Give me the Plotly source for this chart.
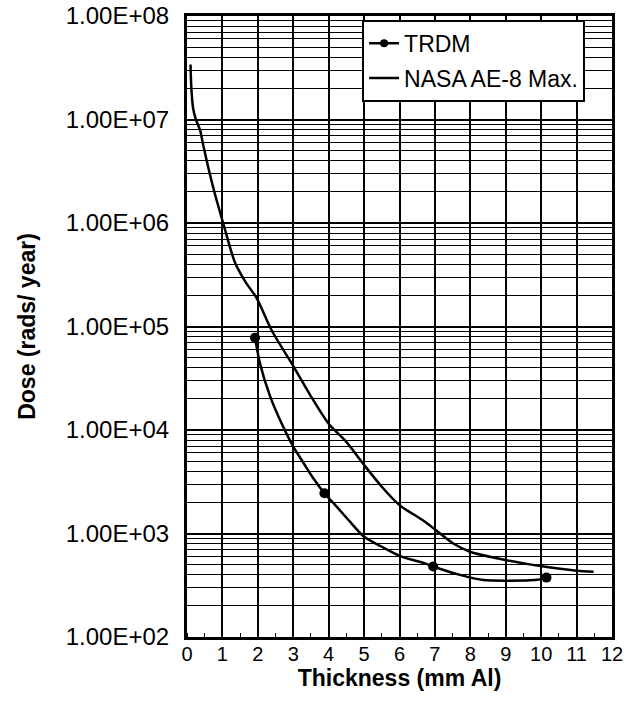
import plotly.graph_objects as go

# ---- data ----
trdm_x = [1.92, 3.88, 6.95, 10.15]
trdm_y = [7.8e4, 2.45e3, 480, 375]

trdm_curve_x = [1.92, 2.06, 2.35, 2.67, 3.0, 3.29, 3.57, 3.88, 4.25, 4.56, 5.0,
                5.5, 6.06, 6.72, 6.95, 7.71, 8.37, 9.03, 9.88, 10.15]
trdm_curve_y = [7.8e4, 4.4e4, 2.1e4, 1.16e4, 6.9e3, 4.8e3, 3.4e3, 2.45e3, 1.78e3,
                1.35e3, 930, 745, 597, 515, 480, 398, 355, 350, 357, 375]

nasa_x = [0.10, 0.12, 0.17, 0.25, 0.37, 0.46, 0.74, 1.05, 1.36, 1.65, 1.97, 2.39,
          3.01, 3.47, 4.0, 4.51, 5.0, 5.5, 6.0, 6.72, 7.52, 7.99, 8.98, 9.97,
          11.0, 11.48]
nasa_y = [3.4e7, 2.1e7, 1.3e7, 1.0e7, 7.9e6, 5.6e6, 2.2e6, 9.2e5, 4.1e5, 2.7e5,
          1.87e5, 9.2e4, 4.1e4, 2.2e4, 1.15e4, 7.6e3, 4.6e3, 2.83e3, 1.88e3, 1.3e3,
          800, 667, 555, 485, 437, 427]

y_tickvals = [1e2, 1e3, 1e4, 1e5, 1e6, 1e7, 1e8]
y_ticktext = ["1.00E+02", "1.00E+03", "1.00E+04", "1.00E+05",
              "1.00E+06", "1.00E+07", "1.00E+08"]
x_tickvals = list(range(0, 13))

FONT = "Liberation Sans, Arial, Helvetica, sans-serif"
minor_y = [m * 10 ** e for e in range(2, 8) for m in range(2, 10)]

fig = go.Figure()
fig.add_trace(go.Scatter(x=nasa_x, y=nasa_y, mode="lines", name="NASA AE-8 Max.",
                         line=dict(color="black", width=2.5, shape="spline", smoothing=0.8),
                         legendrank=2))
fig.add_trace(go.Scatter(x=trdm_curve_x, y=trdm_curve_y, mode="lines", showlegend=False,
                         line=dict(color="black", width=2.5, shape="spline", smoothing=0.7),
                         legendgroup="trdm"))
fig.add_trace(go.Scatter(x=trdm_x, y=trdm_y, mode="markers", showlegend=False,
                         marker=dict(color="black", size=10), legendgroup="trdm"))
fig.add_trace(go.Scatter(x=[None], y=[None], mode="lines+markers", name="TRDM",
                         line=dict(color="black", width=2.5),
                         marker=dict(color="black", size=8), legendgroup="trdm",
                         legendrank=1))

fig.update_layout(
    width=642, height=713,
    margin=dict(l=187, r=30, t=16, b=76, autoexpand=False),
    paper_bgcolor="white", plot_bgcolor="white",
    font=dict(family=FONT, color="black"),
    legend=dict(x=0.412, y=0.994, xanchor="left", yanchor="top",
                bgcolor="white", bordercolor="black", borderwidth=2,
                font=dict(size=23, family=FONT, color="black"),
                itemwidth=30, tracegroupgap=2),
    showlegend=True,
)
fig.update_xaxes(
    range=[0, 12], tickmode="array", tickvals=x_tickvals, automargin=False,
    tickfont=dict(size=20, family=FONT), ticklabeloverflow="allow",
    showgrid=True, gridcolor="black", gridwidth=1.5,
    showline=True, linecolor="black", linewidth=3, mirror=True,
    ticks="", ticklabelstandoff=-3, zeroline=False,
    minor=dict(dtick=0.5, ticks="inside", ticklen=4, tickcolor="black", showgrid=False),
    title=dict(text="<b>Thickness (mm Al)</b>", font=dict(size=23, family=FONT), standoff=3),
)
fig.update_yaxes(
    type="log", range=[2, 8], tickmode="array", tickvals=y_tickvals, ticktext=y_ticktext,
    automargin=False, ticklabeloverflow="allow",
    tickfont=dict(size=24, family=FONT),
    showgrid=True, gridcolor="black", gridwidth=1.5,
    showline=True, linecolor="black", linewidth=3, mirror=True,
    ticks="", ticklabelstandoff=10,
    minor=dict(tickmode="array", tickvals=minor_y, showgrid=True,
               gridcolor="black", gridwidth=1.2, ticks=""),
    title=dict(text="<b>Dose (rads/ year)</b>", font=dict(size=23, family=FONT), standoff=24),
)

# remove the browser's default 8px body margin so the figure fills the window
fig.write_html("out.html", config={"displayModeBar": False},
               post_script="document.body.style.margin='0px';document.body.style.overflow='hidden';")
